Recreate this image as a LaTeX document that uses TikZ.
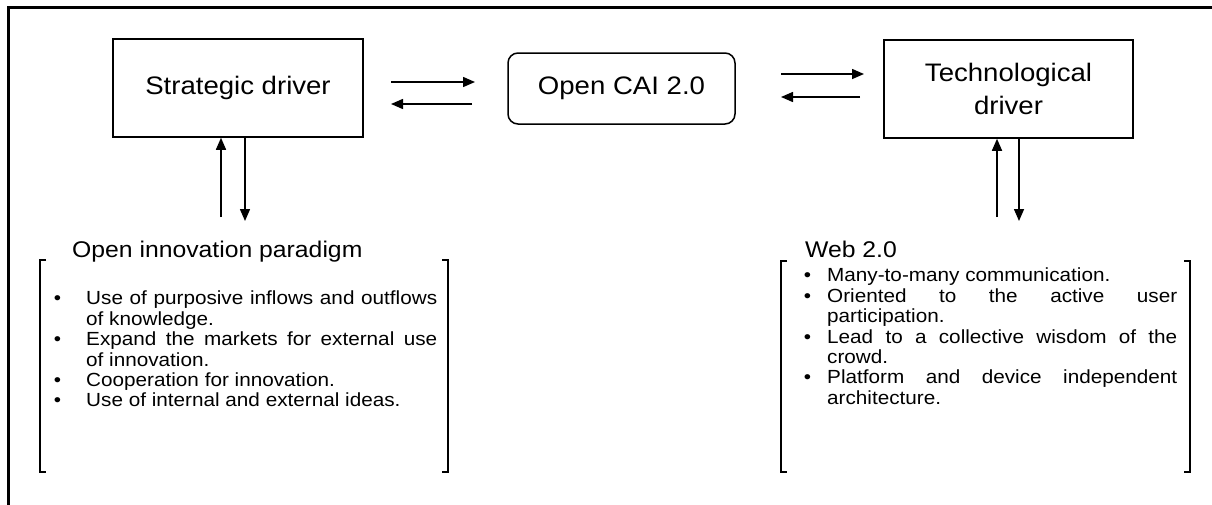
\documentclass[tikz,border=0pt]{standalone}
\usepackage{fontspec}
\setmainfont{Liberation Sans}[FakeStretch=1.09]
\usetikzlibrary{arrows.meta}
\setlength{\parindent}{0pt}
\hyphenpenalty=10000
\tolerance=9999
\newcommand{\bul}[1]{\leavevmode\llap{\textbullet\hspace{#1}}}
\begin{document}
\begin{tikzpicture}[x=1pt,y=-1pt,
  box/.style={draw, line width=1.5pt, inner sep=0pt, align=center, font=\fontsize{25.3}{33}\selectfont},
  arr/.style={line width=1.5pt, -{Triangle[length=12pt,width=10pt]}},
  brk/.style={line width=1.5pt},
  head/.style={anchor=base west, inner sep=0pt, font=\fontsize{22.7}{24}\selectfont},
  lst/.style={anchor=north west, inner sep=0pt, align=justify, font=\fontsize{19}{20.4}\selectfont}]
\useasboundingbox (0,0) rectangle (1212,504);
% outer frame (cropped at right and bottom)
\draw[line width=3pt] (8,512) -- (8,7) -- (1220,7);

% main nodes
\node[box, minimum width=250pt, minimum height=98pt] (sd) at (238,88) {Strategic driver};
\node[box, rounded corners=10pt, minimum width=227pt, minimum height=71pt] (cai) at (621.5,88.5) {Open CAI 2.0};
\node[box, minimum width=249pt, minimum height=98pt] (td) at (1008.5,89) {Technological\\driver};

% horizontal arrows
\coordinate (a1s) at (391,82);  \coordinate (a1e) at (475,82);
\coordinate (a2s) at (472,104); \coordinate (a2e) at (391,104);
\coordinate (a3s) at (781,74);  \coordinate (a3e) at (864,74);
\coordinate (a4s) at (860,97);  \coordinate (a4e) at (781,97);
\draw[arr] (a1s) -- (a1e);
\draw[arr] (a2s) -- (a2e);
\draw[arr] (a3s) -- (a3e);
\draw[arr] (a4s) -- (a4e);

% vertical arrows
\coordinate (u1) at (221,217); \coordinate (d1) at (245,221);
\coordinate (u2) at (997,217); \coordinate (d2) at (1019,221);
\draw[arr] (u1) -- (u1 |- sd.south);
\draw[arr] (d1 |- sd.south) -- (d1);
\draw[arr] (u2) -- (u2 |- td.south);
\draw[arr] (d2 |- td.south) -- (d2);

% brackets
\draw[brk] (46,260) -- (40,260) -- (40,472) -- (46,472);
\draw[brk] (442,260) -- (448,260) -- (448,472) -- (442,472);
\draw[brk] (787,261) -- (781,261) -- (781,472) -- (787,472);
\draw[brk] (1184,261) -- (1190,261) -- (1190,472) -- (1184,472);

% headings
\node[head] (oih) at (72,257) {Open innovation paradigm};
\node[head] (wbh) at (805,257) {Web 2.0};

% lists
\node[lst, text width=351pt] (oil) at (86,291) {%
\bul{25pt}Use of purposive inflows and outflows\linebreak of knowledge.\par
\bul{25pt}Expand the markets for external use\linebreak of innovation.\par
\bul{25pt}Cooperation for innovation.\par
\bul{25pt}Use of internal and external ideas.\par};
\node[lst, text width=350pt] (wbl) at (827,268) {%
\bul{16pt}Many-to-many communication.\par
\bul{16pt}Oriented to the active user\linebreak participation.\par
\bul{16pt}Lead to a collective wisdom of the\linebreak crowd.\par
\bul{16pt}Platform and device independent\linebreak architecture.\par};
\end{tikzpicture}
\end{document}
